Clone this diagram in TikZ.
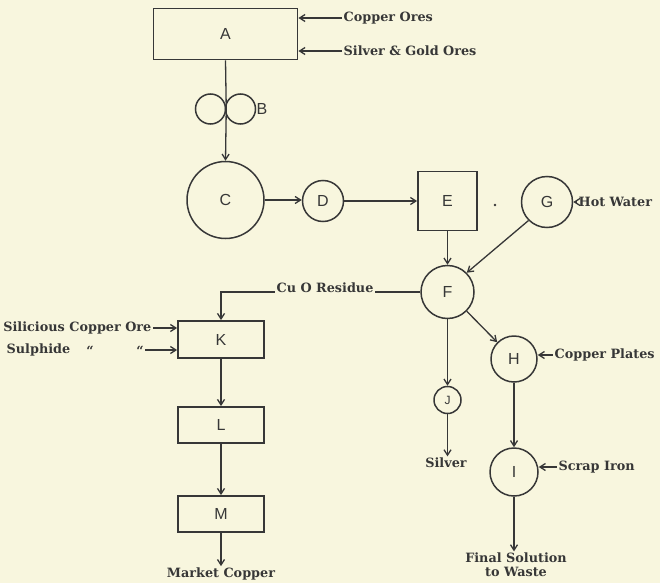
\documentclass[tikz,border=0pt]{standalone}
\usepackage{fontspec}
\setmainfont{DejaVu Serif}
\newfontfamily\letterfont{Liberation Sans}
\usetikzlibrary{arrows.meta}
\definecolor{paper}{RGB}{248,246,222}
\definecolor{ink}{RGB}{55,55,55}
\begin{document}
\begin{tikzpicture}[x=1pt,y=-1pt,
  line width=1.3pt, draw=ink,
  arr/.style={-{Straight Barb[length=5.5pt,width=7pt]}},
  boxnode/.style={draw=ink,line width=1.8pt,rectangle,inner sep=0pt,font=\letterfont\fontsize{16}{18}\selectfont,text=ink},
  circnode/.style={draw=ink,line width=1.5pt,circle,inner sep=0pt,font=\letterfont\fontsize{16}{18}\selectfont,text=ink},
  lab/.style={font=\bfseries\fontsize{12.8}{14}\selectfont,text=ink,inner sep=1pt}]
\fill[paper] (0,0) rectangle (660,583);
\useasboundingbox (0,0) rectangle (660,583);
% boxes
\node[boxnode,minimum width=144pt,minimum height=51pt] (A) at (225.5,34) {A};
\node[circnode,minimum size=30pt] (B1) at (210.5,109) {};
\node[circnode,minimum size=30pt] (B2) at (240.5,109) {};
\node[font=\letterfont\fontsize{16}{18}\selectfont,text=ink,anchor=west,inner sep=0pt] (Bl) at (256,109) {B};
\node[circnode,minimum size=77pt] (C) at (225.5,200) {C};
\node[circnode,minimum size=41pt] (D) at (323,201) {D};
\node[boxnode,minimum width=59pt,minimum height=59pt] (E) at (447.5,201) {E};
\fill[ink] (495,205) circle (1.4pt);
\node[circnode,minimum size=51pt] (G) at (547,202) {G};
\node[circnode,minimum size=53pt] (F) at (447.5,292) {F};
\node[boxnode,minimum width=86pt,minimum height=37pt] (K) at (221,339.5) {K};
\node[boxnode,minimum width=86pt,minimum height=36pt] (L) at (221,425) {L};
\node[boxnode,minimum width=86pt,minimum height=36pt] (M) at (221,514) {M};
\node[circnode,minimum size=27pt,font=\letterfont\fontsize{12}{14}\selectfont] (J) at (447.5,400) {J};
\node[circnode,minimum size=46pt] (H) at (514,359) {H};
\node[circnode,minimum size=48pt] (I) at (514,472) {I};
% labels
\node[lab,anchor=west] (co) at (342,18) {Copper Ores};
\node[lab,anchor=west] (sg) at (342,51) {Silver \& Gold Ores};
\node[lab,anchor=west] (hw) at (577,202) {Hot Water};
\node[lab] (cu) at (325,288) {Cu O Residue};
\node[lab,anchor=east] (sc) at (153,328) {Silicious Copper Ore};
\node[lab,anchor=west] (su) at (5,350) {Sulphide};
\node[lab] (q1) at (90,351) {``};
\node[lab] (q2) at (140,351) {``};
\node[lab,anchor=west] (cp) at (553,355) {Copper Plates};
\node[lab,anchor=west] (si) at (557,467) {Scrap Iron};
\node[lab] (sv) at (446,463) {Silver};
\node[lab,align=center] (fs) at (516,565) {Final Solution\\to Waste};
\node[lab] (mc) at (221,574) {Market Copper};
% connectors
\draw[arr] (co.west) -- (co.west -| A.east);
\draw[arr] (sg.west) -- (sg.west -| A.east);
\draw (A.south) -- (B1.east);
\draw[arr] (B1.east) -- (C.north);
\draw[arr] (C.east) -- (C.east -| D.west);
\draw[arr] (D.east) -- (D.east -| E.west);
\draw[arr] (hw.west) -- (hw.west -| G.east);
\draw[arr] (E.south) -- (F.north);
\draw[arr] (G.225) -- (F.45);
\draw (F.west) -- (F.west -| cu.east);
\draw[arr] (cu.west |- F.west) -- (K.north |- F.west) -- (K.north);
\draw[arr] (sc.east) -- (sc.east -| K.west);
\draw[arr] (q2.east |- su.east) -- (su.east -| K.west);
\draw[arr] (K.south) -- (L.north);
\draw[arr] (L.south) -- (M.north);
\draw[arr] (M.south) -- (mc.north);
\draw[arr] (F.south) -- (J.north);
\draw[arr] (J.south) -- (J.south |- sv.north);
\draw[arr] (F.-45) -- (H.135);
\draw[arr] (cp.west) -- (cp.west -| H.east);
\draw[arr] (H.south) -- (I.north);
\draw[arr] (si.west) -- (si.west -| I.east);
\draw[arr] (I.south) -- (I.south |- fs.north);
\end{tikzpicture}
\end{document}
